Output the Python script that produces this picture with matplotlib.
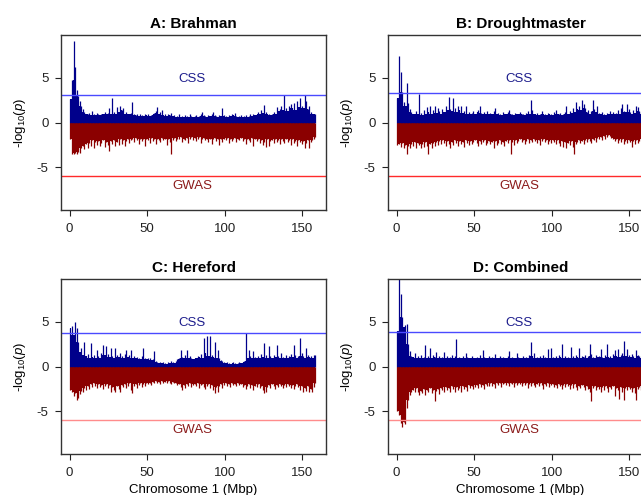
import numpy as np
import matplotlib.pyplot as plt

plt.rcParams['font.family'] = ['Liberation Sans', 'DejaVu Sans']
plt.rcParams['mathtext.fontset'] = 'custom'
plt.rcParams['mathtext.rm'] = 'Liberation Sans'
plt.rcParams['mathtext.it'] = 'Liberation Sans:italic'
plt.rcParams['axes.unicode_minus'] = False

# -log10(p) per 1 Mbp bin along chromosome 1 (max in each bin)
# CSS values plotted upwards, GWAS values plotted downwards
a_css = [2.6, 4.8, 9.1, 6.2, 3.6, 3.0, 2.4, 1.9, 1.5, 1.2,
         1.0, 0.9, 1.1, 0.8, 1.3, 0.9, 0.8, 1.1, 0.9, 0.8,
         1.0, 0.9, 1.2, 0.9, 1.1, 1.6, 1.0, 2.8, 1.2, 1.0,
         1.7, 1.2, 1.8, 1.4, 1.6, 1.0, 1.2, 0.9, 1.0, 1.1,
         2.3, 1.0, 0.8, 0.9, 0.7, 1.0, 0.8, 0.7, 0.9, 0.8,
         1.0, 0.7, 0.8, 0.9, 1.1, 1.3, 1.7, 1.0, 1.2, 1.4,
         0.8, 0.9, 0.7, 1.0, 0.8, 1.1, 0.7, 0.8, 0.6, 0.7,
         0.9, 0.6, 0.7, 0.6, 0.8, 0.7, 0.6, 1.0, 0.7, 0.6,
         0.7, 0.8, 0.6, 0.7, 0.9, 1.2, 0.8, 0.7, 0.6, 0.8,
         0.7, 0.9, 1.2, 0.8, 0.7, 0.6, 0.8, 0.7, 1.6, 0.8,
         0.7, 0.6, 0.8, 0.7, 0.9, 0.8, 1.1, 0.7, 0.6, 0.7,
         0.8, 0.6, 0.7, 0.8, 0.6, 0.7, 0.9, 0.7, 1.0, 0.8,
         0.9, 1.2, 1.0, 1.4, 1.1, 2.0, 1.2, 0.9, 1.0, 0.8,
         0.9, 1.2, 1.0, 1.7, 1.3, 1.5, 1.9, 1.4, 3.1, 1.6,
         1.3, 1.8, 2.1, 1.6, 2.2, 1.4, 2.4, 1.7, 2.8, 1.9,
         1.6, 3.1, 2.4, 1.5, 1.8, 1.2, 1.0, 0.9, 0.9]
a_gwas = [1.8, 3.5, 3.5, 3.4, 3.5, 3.3, 3.4, 2.8, 2.6, 3.0,
          2.4, 2.9, 2.3, 2.6, 2.0, 2.8, 2.2, 2.5, 2.1, 2.6,
          2.3, 2.0, 2.7, 2.2, 2.5, 3.2, 2.1, 2.4, 2.0, 2.6,
          2.2, 2.5, 1.9, 2.4, 2.0, 2.6, 2.1, 1.8, 2.3, 2.0,
          1.8, 2.2, 1.7, 2.0, 2.4, 1.8, 2.1, 1.9, 2.6, 1.8,
          2.0, 2.3, 1.7, 2.1, 1.9, 2.4, 1.8, 2.0, 2.2, 1.7,
          2.0, 1.8, 2.5, 1.9, 2.2, 3.5, 2.0, 1.7, 2.1, 1.8,
          1.9, 1.6, 2.2, 1.8, 2.0, 1.7, 2.3, 1.8, 1.6, 2.0,
          1.7, 2.1, 1.8, 1.6, 2.3, 1.9, 1.7, 2.0, 1.8, 2.2,
          1.8, 2.4, 1.9, 1.7, 2.1, 1.8, 2.5, 1.9, 2.2, 1.8,
          2.0, 1.7, 2.3, 1.8, 2.1, 1.9, 1.7, 2.2, 1.8, 2.0,
          1.7, 2.1, 1.9, 2.4, 1.8, 2.0, 2.2, 1.7, 2.6, 1.9,
          2.1, 1.8, 2.3, 2.0, 2.5, 2.2, 2.7, 1.9, 2.6, 2.1,
          2.0, 2.3, 1.8, 2.2, 2.0, 2.4, 1.9, 2.1, 2.3, 1.8,
          2.2, 2.0, 2.5, 1.9, 2.3, 2.1, 2.6, 2.0, 2.2, 2.4,
          2.1, 2.9, 2.3, 2.0, 2.8, 2.2, 2.0, 1.8, 1.6]

b_css = [2.7, 7.5, 5.7, 3.4, 2.3, 1.8, 4.4, 2.2, 1.5, 1.2,
         1.0, 0.9, 1.3, 1.0, 3.2, 1.1, 0.8, 1.4, 1.0, 1.7,
         1.2, 1.9, 1.0, 1.4, 1.8, 1.1, 1.6, 1.3, 1.0, 1.5,
         1.2, 1.8, 1.4, 2.9, 1.5, 1.3, 2.8, 1.6, 1.2, 1.9,
         1.4, 1.8, 1.1, 1.3, 1.8, 1.0, 1.2, 0.9, 1.1, 1.3,
         1.0, 1.2, 1.4, 1.9, 1.1, 0.9, 1.2, 1.0, 1.3, 0.9,
         1.1, 1.0, 1.3, 1.6, 0.9, 1.1, 1.0, 0.8, 1.2, 1.0,
         0.9, 1.2, 1.4, 0.9, 1.0, 0.8, 1.1, 0.9, 1.0, 1.2,
         0.9, 1.0, 0.8, 1.1, 1.3, 1.0, 2.5, 1.4, 1.0, 0.9,
         1.1, 0.8, 1.0, 1.3, 0.9, 1.0, 0.8, 1.1, 0.9, 1.0,
         0.8, 1.2, 1.4, 1.0, 0.9, 1.1, 0.8, 1.0, 1.2, 1.9,
         1.0, 1.3, 1.1, 1.6, 1.2, 2.3, 1.5, 1.8, 1.4, 2.5,
         2.1, 1.6, 1.2, 1.4, 1.0, 1.3, 2.5, 1.5, 1.2, 1.9,
         1.1, 0.9, 1.2, 1.0, 0.8, 1.1, 0.9, 1.3, 1.0, 1.2,
         0.9, 1.1, 1.4, 1.0, 1.6, 2.1, 1.3, 1.2, 2.1, 1.5,
         1.2, 1.0, 1.4, 1.1, 1.8, 1.75, 1.3, 1.2, 1.0]
b_gwas = [2.5, 2.4, 2.7, 2.3, 2.8, 2.5, 3.5, 2.6, 2.9, 2.4,
          2.6, 2.2, 2.8, 2.3, 2.5, 2.9, 2.4, 2.7, 2.2, 2.6,
          3.5, 2.4, 2.8, 2.3, 2.6, 2.2, 2.5, 2.1, 2.4, 2.0,
          2.3, 2.6, 2.1, 2.4, 2.8, 2.2, 2.5, 2.0, 2.3, 2.6,
          2.1, 2.4, 2.2, 2.7, 2.0, 2.3, 2.5, 2.1, 2.4, 2.2,
          2.0, 2.3, 2.6, 2.1, 2.4, 2.2, 2.0, 2.5, 2.3, 2.1,
          2.4, 2.2, 2.9, 2.1, 2.5, 2.3, 2.0, 2.4, 2.2, 2.6,
          2.1, 2.3, 2.0, 3.5, 2.2, 2.5, 2.0, 2.3, 2.1, 1.9,
          2.2, 2.0, 2.4, 2.1, 1.9, 2.3, 2.0, 2.2, 1.8, 2.1,
          2.3, 2.0, 2.5, 2.1, 1.9, 2.2, 2.0, 2.4, 2.1, 2.3,
          2.0, 2.2, 2.4, 2.0, 2.3, 2.6, 2.1, 2.7, 2.2, 2.9,
          2.3, 2.5, 2.1, 2.7, 3.5, 2.4, 2.2, 2.0, 2.3, 2.1,
          2.4, 2.0, 2.2, 1.9, 2.1, 2.3, 1.8, 2.0, 2.2, 1.7,
          1.9, 1.6, 2.0, 1.5, 1.8, 1.6, 1.4, 1.5, 1.7, 1.9,
          2.1, 1.8, 2.35, 2.0, 2.2, 1.9, 2.4, 2.1, 2.3, 2.0,
          2.2, 2.7, 2.1, 2.4, 2.0, 2.3, 2.1, 1.9, 2.0]

c_css = [4.35, 4.5, 3.5, 5.0, 4.3, 2.8, 1.6, 2.1, 1.3, 2.8,
         1.2, 1.4, 1.0, 2.65, 1.1, 1.3, 0.9, 1.9, 1.2, 1.0,
         1.5, 2.45, 1.3, 2.3, 1.4, 1.1, 2.1, 1.2, 1.0, 2.1,
         1.3, 1.1, 1.5, 1.2, 1.0, 1.4, 1.9, 1.1, 1.3, 1.8,
         1.0, 1.2, 0.9, 1.1, 1.0, 0.8, 1.2, 2.1, 0.9, 0.8,
         0.9, 1.0, 0.7, 0.8, 1.7, 0.6, 0.5, 0.4, 0.5, 0.4,
         0.5, 0.4, 0.3, 0.5, 0.4, 0.6, 0.5, 0.4, 0.6, 0.8,
         1.0, 1.8, 1.1, 0.9, 1.3, 1.9, 1.0, 1.2, 0.9, 0.8,
         1.0, 0.9, 1.2, 1.1, 1.4, 1.0, 3.2, 1.5, 3.4, 1.2,
         3.4, 1.3, 1.1, 2.8, 1.0, 1.9, 0.9, 0.7, 0.6, 0.5,
         0.4, 0.5, 0.4, 0.3, 0.4, 0.5, 0.4, 0.3, 0.4, 0.5,
         0.4, 0.5, 0.6, 3.8, 0.9, 1.8, 1.2, 1.0, 1.7, 1.1,
         0.9, 1.2, 1.0, 1.4, 1.1, 2.65, 1.3, 1.0, 2.3, 1.2,
         1.0, 1.3, 1.1, 2.4, 1.2, 1.0, 1.5, 1.1, 0.9, 1.3,
         1.0, 1.2, 1.4, 1.1, 2.45, 1.3, 1.0, 1.2, 3.2, 1.5,
         1.2, 1.0, 2.1, 1.3, 1.1, 1.2, 1.0, 1.3, 1.3]
c_gwas = [2.6, 2.9, 3.3, 3.0, 3.8, 3.5, 3.1, 2.7, 2.9, 2.4,
          2.6, 2.2, 2.5, 2.0, 2.3, 1.9, 2.2, 2.4, 2.0, 2.3,
          2.1, 2.5, 2.2, 2.0, 2.4, 2.1, 2.8, 2.3, 2.6, 2.9,
          2.2, 2.5, 2.8, 2.1, 2.3, 2.0, 2.4, 2.2, 1.9, 2.6,
          3.0, 2.2, 2.0, 2.4, 2.1, 1.9, 2.3, 2.0, 2.2, 1.8,
          2.0, 1.8, 2.1, 1.7, 1.9, 1.6, 1.8, 1.7, 2.0, 1.6,
          1.8, 1.7, 1.9, 1.6, 1.8, 2.0, 1.7, 1.9, 1.8, 2.1,
          2.0, 2.3, 2.65, 2.1, 2.4, 2.0, 2.2, 1.9, 2.3, 2.1,
          2.0, 2.2, 1.9, 2.4, 2.1, 2.0, 2.3, 2.5, 2.2, 2.0,
          2.4, 2.1, 2.6, 3.0, 2.3, 2.8, 2.2, 2.0, 2.4, 2.1,
          1.9, 2.2, 2.0, 2.3, 1.9, 2.1, 2.0, 2.2, 1.8, 2.1,
          2.0, 2.3, 2.1, 2.5, 2.2, 2.0, 2.4, 2.1, 2.6, 2.2,
          2.3, 2.0, 2.4, 2.2, 2.6, 3.0, 2.8, 2.3, 2.1, 2.4,
          2.0, 2.2, 2.5, 2.1, 2.3, 2.0, 2.2, 2.4, 2.1, 2.3,
          2.0, 2.2, 2.4, 2.1, 2.5, 2.2, 2.0, 2.3, 2.6, 2.2,
          2.8, 2.4, 2.7, 2.2, 2.8, 2.5, 2.9, 2.3, 1.8]

d_css = [4.0, 9.8, 8.1, 5.5, 4.4, 4.7, 4.8, 2.5, 1.7, 1.2,
         1.1, 1.5, 1.0, 1.2, 0.9, 1.3, 1.0, 1.1, 2.4, 1.0,
         1.2, 2.1, 1.0, 1.3, 1.1, 1.6, 1.0, 1.2, 0.9, 1.1,
         1.6, 1.0, 1.2, 0.9, 1.1, 1.3, 1.0, 1.2, 3.1, 1.0,
         1.1, 0.9, 1.2, 1.0, 1.5, 1.1, 0.9, 1.0, 1.2, 0.9,
         1.0, 1.1, 0.9, 1.3, 1.0, 1.8, 1.1, 0.9, 1.0, 1.2,
         0.9, 1.1, 1.0, 1.4, 0.9, 1.0, 1.2, 0.9, 1.1, 1.0,
         0.9, 1.2, 1.7, 1.0, 1.1, 0.9, 1.0, 1.5, 1.1, 0.9,
         1.0, 1.2, 0.9, 1.1, 1.0, 1.3, 2.8, 1.2, 1.5, 1.0,
         1.1, 0.9, 1.2, 1.0, 1.3, 1.1, 0.9, 2.0, 1.0, 2.1,
         1.1, 0.9, 1.2, 1.0, 1.3, 1.1, 2.5, 1.0, 1.2, 0.9,
         1.1, 1.0, 2.2, 1.2, 1.0, 1.3, 1.1, 2.1, 1.0, 1.2,
         1.1, 1.3, 1.0, 1.2, 2.5, 1.4, 1.1, 1.0, 1.3, 1.1,
         1.2, 2.0, 1.1, 1.0, 1.3, 2.5, 1.1, 1.2, 1.0, 1.4,
         1.8, 1.2, 2.0, 1.1, 1.3, 1.5, 2.85, 1.2, 2.0, 1.3,
         1.1, 1.4, 1.2, 1.0, 1.9, 1.3, 1.2, 1.1, 1.0]
d_gwas = [5.0, 5.4, 6.3, 6.8, 6.2, 6.4, 4.7, 3.8, 3.2, 2.9,
          2.6, 2.8, 2.4, 2.9, 3.2, 2.7, 3.0, 2.5, 3.2, 2.6,
          2.9, 2.4, 3.0, 2.6, 3.9, 2.7, 2.5, 3.1, 2.4, 2.6,
          2.8, 2.3, 2.6, 2.4, 2.8, 2.2, 2.5, 2.8, 2.3, 2.6,
          2.4, 2.8, 2.2, 2.5, 2.3, 2.7, 2.1, 2.4, 2.2, 2.5,
          2.3, 2.1, 2.4, 2.0, 2.3, 2.1, 2.5, 2.0, 2.2, 2.2,
          1.9, 2.2, 2.0, 2.4, 1.8, 2.1, 1.9, 2.3, 2.0, 1.8,
          2.1, 1.9, 2.2, 1.8, 2.0, 2.3, 1.9, 2.1, 1.8, 2.0,
          2.2, 1.9, 2.1, 1.8, 2.4, 2.0, 2.2, 1.9, 2.1, 2.3,
          2.0, 2.2, 1.9, 2.1, 2.5, 2.0, 2.2, 1.9, 2.3, 2.1,
          2.0, 2.3, 2.1, 2.4, 2.0, 2.2, 2.5, 2.1, 2.3, 2.0,
          2.2, 2.5, 2.1, 2.4, 2.0, 2.3, 2.6, 2.2, 2.4, 2.1,
          2.3, 2.6, 2.2, 2.5, 2.8, 3.9, 2.4, 2.2, 2.6, 2.3,
          2.5, 2.8, 2.3, 2.6, 2.2, 2.4, 2.8, 2.3, 2.5, 2.2,
          3.3, 2.4, 2.6, 3.6, 2.3, 2.8, 3.7, 2.4, 2.6, 2.3,
          2.5, 2.8, 2.4, 3.0, 3.7, 2.5, 2.3, 2.6, 2.2]

titles = ['A: Brahman', 'B: Droughtmaster', 'C: Hereford', 'D: Combined']
css_cut = [3.1, 3.25, 3.75, 3.9]
gwas_cut = [6.0, 6.0, 6.0, 6.0]
gwas_line_col = ['#ff2a2a', '#ff2a2a', '#ff8c8c', '#ff8c8c']

blue = '#00008b'
red = '#8b0000'


def band_level(v):
    # solid part of the dense band: lowest value among a bin and its neighbours
    v = np.asarray(v)
    left = np.r_[v[0], v[:-1]]
    right = np.r_[v[1:], v[-1]]
    return np.minimum(v, np.minimum(left, right))


def draw_panel(ax, css, gwas, cut_up, cut_down, line_col, title, bottom):
    css = np.asarray(css)
    gwas = np.asarray(gwas)
    x = np.arange(len(css)) + 0.5
    ax.fill_between(x, 0, band_level(css), step='mid', color=blue, lw=0)
    ax.vlines(x, 0, css, color=blue, lw=0.9)
    ax.fill_between(x, 0, -band_level(gwas), step='mid', color=red, lw=0)
    ax.vlines(x, 0, -gwas, color=red, lw=0.9)

    ax.axhline(cut_up, color='#4a4aff', lw=1)
    ax.axhline(-cut_down, color=line_col, lw=1)
    ax.text(79, 4.85, 'CSS', color='#1c1c8c', ha='center', va='center', fontsize=9.5)
    ax.text(79, -7.1, 'GWAS', color='#8b1a1a', ha='center', va='center', fontsize=9.5)

    ax.set_xlim(-5.6, 165.3)
    ax.set_ylim(-9.8, 9.8)
    ax.set_xticks([0, 50, 100, 150])
    ax.set_yticks([-5, 0, 5])
    ax.tick_params(direction='out', length=4, width=0.8, labelsize=9.5, pad=5, colors='#222222')
    for s in ax.spines.values():
        s.set_color('#333333')
        s.set_linewidth(1)
    ax.set_title(title, fontsize=11, fontweight='bold', pad=5)
    ax.set_ylabel(r'-$\mathrm{log}_{10}(p)$', fontsize=9.5, labelpad=6)
    if bottom:
        ax.set_xlabel('Chromosome 1 (Mbp)', fontsize=9.5, labelpad=4)


fig = plt.figure(figsize=(6.41, 4.95), dpi=100)
W, H = 641.0, 495.0
boxes = [(61, 35), (388, 35), (61, 279), (388, 279)]
data = [(a_css, a_gwas), (b_css, b_gwas), (c_css, c_gwas), (d_css, d_gwas)]

for i in range(4):
    left, top = boxes[i]
    ax = fig.add_axes([left / W, 1 - (top + 175) / H, 265 / W, 175 / H])
    draw_panel(ax, data[i][0], data[i][1], css_cut[i], gwas_cut[i],
               gwas_line_col[i], titles[i], i >= 2)

fig.savefig('out.png', dpi=100)
